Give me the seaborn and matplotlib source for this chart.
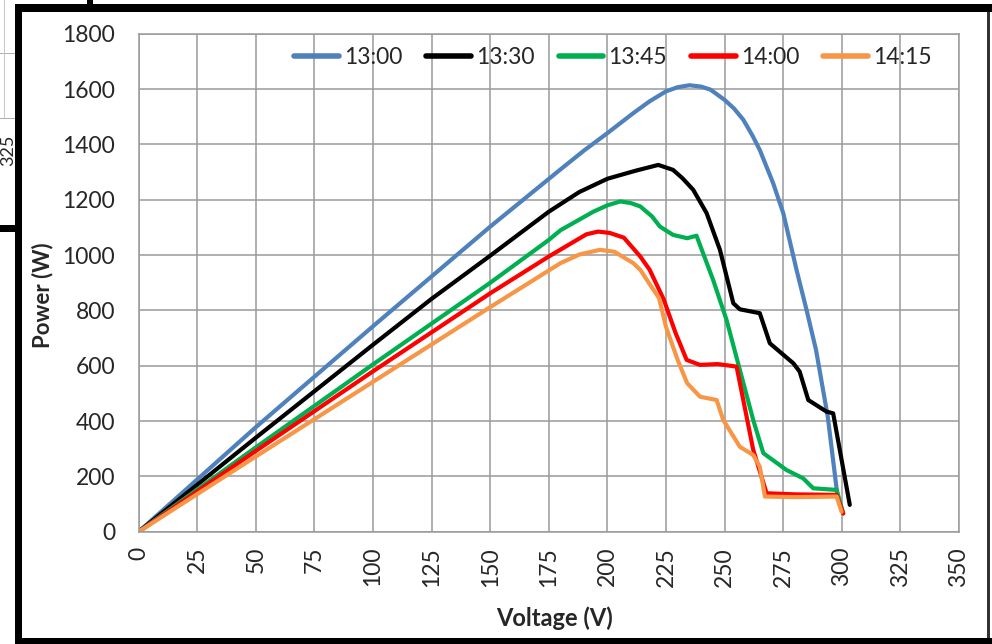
import matplotlib
matplotlib.use("Agg")
import matplotlib.pyplot as plt
from matplotlib.patches import Rectangle
from matplotlib.lines import Line2D
import seaborn as sns
import pandas as pd

# ---- data ----
series_names = ["13:00", "13:30", "13:45", "14:00", "14:15"]
series_colors = ["#4f81bd", "#000000", "#00b050", "#ff0000", "#f79646"]

v_1300 = [0, 50, 100, 150, 180, 190, 200, 211, 218, 225, 230, 235, 240, 244, 250, 254, 258, 262, 265, 270.7, 275, 280.7, 285, 289, 294, 298]
p_1300 = [0, 378, 743, 1103, 1310, 1378, 1441, 1513, 1556, 1592, 1607, 1614, 1609, 1598, 1561, 1530, 1489, 1430, 1380, 1260, 1152, 946, 800, 657, 416, 140]

v_1330 = [0, 50, 100, 125, 150, 175, 188, 200, 212, 221.7, 228, 232, 236.6, 242.3, 248, 253.7, 256.5, 265, 269.3, 279.3, 282, 285.7, 293.5, 296.3, 303.4]
p_1330 = [0, 340, 676, 842, 998, 1157, 1228, 1276, 1305, 1326, 1308, 1278, 1236, 1152, 1019, 826, 804, 790, 681, 609, 579, 476, 434, 428, 97]

v_1345 = [0, 50, 100, 150, 175, 180, 194, 200, 205.5, 210, 214, 219, 222.4, 228, 234, 238, 245.1, 250.8, 256.5, 262.2, 266.5, 276.4, 283.5, 287.8, 297.8, 300.6]
p_1345 = [0, 305, 605, 900, 1055, 1090, 1157, 1180, 1194, 1188, 1176, 1140, 1103, 1073, 1061, 1070, 910, 766, 585, 404, 284, 223, 193, 157, 151, 66]

v_1400 = [0, 50, 100, 150, 175, 185, 191, 196, 201, 207, 214, 218, 224, 229, 233.8, 239.5, 247, 255.1, 262.2, 267.9, 280, 297.8, 300.6]
p_1400 = [0, 292, 580, 862, 995, 1045, 1075, 1085, 1080, 1063, 995, 947, 840, 720, 621, 603, 606, 597, 296, 139, 135, 133, 66]

v_1415 = [0, 50, 100, 150, 180, 188, 196.8, 203, 211, 214, 218, 222, 225, 230, 234, 239.5, 246.6, 249.4, 256.5, 262.2, 265, 267.2, 280, 297.8, 299.9]
p_1415 = [0, 272, 542, 812, 971, 1002, 1019, 1012, 971, 947, 895, 845, 740, 620, 537, 488, 476, 404, 307, 277, 235, 127, 125, 127, 72]

x_ticks = list(range(0, 351, 25))
y_ticks = list(range(0, 1801, 200))

# ---- build long-form table ----
frames = []
for name, v, p in zip(series_names,
                      [v_1300, v_1330, v_1345, v_1400, v_1415],
                      [p_1300, p_1330, p_1345, p_1400, p_1415]):
    frames.append(pd.DataFrame({"Voltage": v, "Power": p, "Series": name}))
df = pd.concat(frames, ignore_index=True)

sns.set_theme(style="white")
plt.rcParams["font.family"] = ["Lato", "DejaVu Sans"]

fig = plt.figure(figsize=(9.92, 6.44), dpi=100)
ax = fig.add_axes([138.7 / 992, 1 - 531.7 / 644, (959 - 138.7) / 992, (531.7 - 33.8) / 644])

sns.lineplot(data=df, x="Voltage", y="Power", hue="Series", hue_order=series_names,
             palette=series_colors, sort=False, estimator=None, linewidth=3.0, ax=ax,
             legend=False, solid_joinstyle="round", solid_capstyle="round")

ax.set_xlim(0, 350)
ax.set_ylim(0, 1800)
ax.set_xticks(x_ticks)
ax.set_yticks(y_ticks)
ax.set_xticklabels([str(t) for t in x_ticks], rotation=90, fontsize=16.5, va="top", ha="center")
ax.set_yticklabels([str(t) for t in y_ticks], fontsize=16.5)
ax.tick_params(axis="y", length=0, pad=17)
ax.tick_params(axis="x", length=0, pad=11)
ax.grid(True, color="#9a9a9a", linewidth=1.1)
for s in ax.spines.values():
    s.set_color("#9a9a9a")
    s.set_linewidth(1.1)

ax.set_xlabel("Voltage (V)", fontsize=17, fontweight="bold")
ax.set_ylabel("Power (W)", fontsize=16, fontweight="bold")
ax.xaxis.set_label_coords(0.507, -0.173)
ax.yaxis.set_label_coords(-0.117, 0.476)
ax.xaxis.label.set_va("center")
ax.yaxis.label.set_va("center")

handles = [Line2D([0], [0], color=c, linewidth=4, solid_capstyle="round") for c in series_colors]
ax.legend(handles, series_names, loc="center", bbox_to_anchor=(0.578, 0.953), ncol=5,
          frameon=False, fontsize=16.5, handlelength=1.95, handletextpad=0.22,
          columnspacing=1.05, borderaxespad=0)

# ---- screenshot frame decoration ----
W, H = 992.0, 644.0
def rect(x0, y0, x1, y1, color):
    fig.add_artist(Rectangle((x0 / W, 1 - y1 / H), (x1 - x0) / W, (y1 - y0) / H,
                             transform=fig.transFigure, color=color, lw=0, zorder=10))

rect(15, 4, 992, 12, "black")      # top bar
rect(15, 4, 22, 644, "black")      # left bar
rect(15, 638, 992, 644, "black")   # bottom bar
rect(987, 12, 990, 638, "#333333") # right edge
rect(87, 0, 93, 4, "black")
rect(0, 225, 15, 232, "black")
# bits of a neighbouring chart at the far left
rect(0, 53, 15, 54, "#b0b0b0")
rect(0, 118, 15, 119, "#b0b0b0")
rect(4, 0, 5, 118, "#c8c8c8")
fig.text(8 / W, 1 - 150 / H, "325", rotation=90, fontsize=13, ha="center", va="center")

fig.savefig("out.png", dpi=100)
